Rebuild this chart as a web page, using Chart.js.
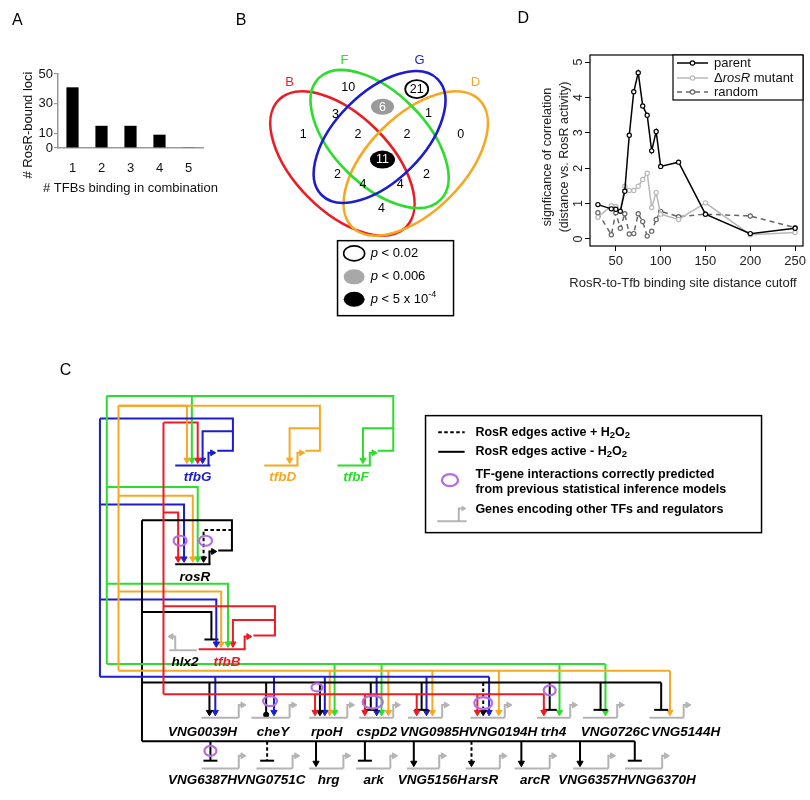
<!DOCTYPE html>
<html><head><meta charset="utf-8">
<script src="https://cdn.jsdelivr.net/npm/chart.js@4.4.1/dist/chart.umd.min.js"></script>
<style>
html,body{margin:0;padding:0;background:#fff;}
#wrap{position:relative;width:810px;height:800px;overflow:hidden;background:#fff;}
canvas{position:absolute;}
</style></head><body>
<div id="wrap">
<canvas id="net" width="810" height="800" style="left:0;top:0;width:810px;height:800px"></canvas>
<canvas id="chA" width="240" height="230" style="left:0;top:0;width:240px;height:230px"></canvas>
<canvas id="chD" width="290" height="290" style="left:520px;top:0;width:290px;height:290px"></canvas>
</div>
<script>
// ---------------- DATA ----------------
// Panel A
const tfbCombo = ['1','2','3','4','5'];
const boundLoci = [41, 15, 15, 9, 0.5];
const aTicks = [0, 10, 30, 50];

// Panel D
const cutoffs   = [30,45,50,55,60,65,70,75,80,85,90,95,100,120,150,200,250];
const parentSig = [0.97,0.85,0.84,0.78,1.35,2.93,4.16,4.70,3.76,3.50,2.49,3.04,2.05,2.17,0.70,0.15,0.30];
const mutantSig = [0.61,0.94,0.92,0.80,1.49,1.37,1.37,1.49,1.68,1.86,0.89,1.31,0.70,0.55,1.02,0.12,0.18];
const randomSig = [0.74,0.12,0.74,0.30,0.71,0.14,0.15,0.71,0.49,0.08,0.22,0.55,0.78,0.63,0.70,0.65,0.32];
const dXTicks = [50,100,150,200,250];
const dYTicks = [0,1,2,3,4,5];

// Panel B (Venn)
const vennSets    = ['B','F','G','D'];
const vennRegions = ['B','F','G','D','BF','FG','GD','BFG','FGD','BFGD','BG','BGD','BFD','FD','BD'];
const vennCounts  = [1,10,21,0,3,6,1,2,2,11,2,4,4,2,4];
const vennSignif  = ['','','p<0.02','','','p<0.006','','','','p<5e-4','','','','',''];

// Panel C (network)
const regulators = ['tfbB','tfbD','tfbF','tfbG','rosR'];
const topGenes  = ['tfbG','tfbD','tfbF','rosR','tfbB','hlx2'];
const row1Genes = ['VNG0039H','cheY','rpoH','cspD2','VNG0985H','VNG0194H','trh4','VNG0726C','VNG5144H'];
const row2Genes = ['VNG6387H','VNG0751C','hrg','ark','VNG5156H','arsR','arcR','VNG6357H','VNG6370H'];
// [regulator, target, effect, condition]  effect: act / rep / ball ; condition: '-' (-H2O2, solid) or '+' (+H2O2, dashed)
const edges = [
 ['tfbD','tfbG','act','-'],['tfbF','tfbG','act','-'],['tfbB','tfbG','act','-'],['tfbG','tfbG','act','-'],
 ['tfbD','tfbD','act','-'],['tfbF','tfbF','act','-'],
 ['tfbB','rosR','act','-'],['tfbG','rosR','act','-'],['tfbD','rosR','act','-'],['tfbF','rosR','act','-'],['rosR','rosR','act','+'],
 ['tfbG','tfbB','act','-'],['tfbD','tfbB','act','-'],['tfbF','tfbB','act','-'],['rosR','tfbB','rep','-'],['tfbB','tfbB','act','-'],
 ['rosR','VNG0039H','act','-'],['tfbG','VNG0039H','act','-'],
 ['rosR','cheY','ball','-'],['tfbG','cheY','act','-'],
 ['tfbB','rpoH','act','-'],['rosR','rpoH','act','-'],['tfbG','rpoH','act','-'],['tfbD','rpoH','act','-'],['tfbF','rpoH','act','-'],
 ['tfbB','cspD2','act','-'],['rosR','cspD2','rep','-'],['tfbG','cspD2','act','-'],['tfbF','cspD2','act','-'],['tfbD','cspD2','act','-'],
 ['tfbB','VNG0985H','act','-'],['rosR','VNG0985H','rep','-'],['tfbG','VNG0985H','act','-'],['tfbD','VNG0985H','act','-'],
 ['tfbB','VNG0194H','act','-'],['rosR','VNG0194H','act','+'],['tfbG','VNG0194H','act','-'],['tfbD','VNG0194H','act','-'],
 ['tfbB','trh4','act','-'],['rosR','trh4','rep','-'],['tfbF','trh4','act','-'],
 ['rosR','VNG0726C','rep','-'],['tfbF','VNG0726C','act','-'],
 ['rosR','VNG5144H','rep','-'],['tfbD','VNG5144H','act','-'],
 ['rosR','VNG6387H','rep','-'],['rosR','VNG0751C','rep','+'],['rosR','hrg','act','-'],['rosR','ark','rep','-'],
 ['rosR','VNG5156H','act','-'],['rosR','arsR','act','+'],['rosR','arcR','act','-'],['rosR','VNG6357H','act','-'],['rosR','VNG6370H','rep','-']
];
const predictedTargets = ['rosR','rosR','cheY','rpoH','cspD2','VNG0194H','trh4','VNG6387H'];

// ---------------- STYLE / LAYOUT ----------------
const FAM = '"Liberation Sans", Arial, Helvetica, sans-serif';
const fnt = (size, style) => (style ? style + ' ' : '') + size + 'px ' + FAM;
const COL = {tfbB:'#ec1c24', tfbD:'#f7a823', tfbF:'#2ddd2d', tfbG:'#1d1dd0', rosR:'#000000', gray:'#b4b4b4', purple:'#b56de3'};
const vennColor = {B:COL.tfbB, F:COL.tfbF, G:COL.tfbG, D:COL.tfbD};

const vennShape = {B:[341,158,90,48,45], F:[379,133,86,46,45], G:[379,131,82,44,-45], D:[416,158,90,48,-45]};
const vennLabelPos = {B:[287,75], F:[343,53], G:[420,53], D:[477,75]};
const vennRegionPos = {B:[301,128],F:[347,80],G:[417,82],D:[462,128],BF:[334,107],FG:[382,100],GD:[429,106],
  BFG:[357,128],FGD:[407,128],BFGD:[382,154],BG:[336,169],BGD:[362,179],BFD:[400,179],FD:[427,169],BD:[381,204]};

const trunk = {tfbG:[93,419], tfbD:[112,406], tfbF:[100,396], tfbB:[158,423], rosR:[136,523]};
const bus1Y = {tfbF:670, tfbD:677, tfbG:683, rosR:689, tfbB:701};
const bus2Y = 749;
const sourceLoop = {
  tfbG:[[213,452],[229,452],[229,419],[93,419]],
  tfbD:[[303,452],[318,452],[318,406],[112,406]],
  tfbF:[[377,452],[393,452],[393,396],[100,396]],
  tfbB:[[250,641],[272,641],[272,611],[158,611]],
  rosR:[[214,554],[228,554],[228,523],[136,523]]
};
const topGeneLayout = {
  tfbG:{s:170,e:206,y:467,p:204,py:452,c:COL.tfbG,lx:193,ly:479,tc:COL.tfbG},
  tfbD:{s:261,e:296,y:467,p:295,py:452,c:COL.tfbD,lx:280,ly:479,tc:COL.tfbD},
  tfbF:{s:336,e:370,y:467,p:369,py:452,c:COL.tfbF,lx:355,ly:479,tc:COL.tfbF},
  rosR:{s:170,e:206,y:568,p:205,py:554,c:'#000',lx:190,ly:581,tc:'#000'},
  tfbB:{s:194,e:242,y:655,p:241,py:641,c:COL.tfbB,lx:223,ly:668,tc:COL.tfbB},
  hlx2:{s:164,e:192,y:656,p:170,py:641,c:COL.gray,lx:180,ly:668,tc:'#000',left:true}
};
const topEdgeLayout = {
 'tfbD>tfbG':[112,406,182],'tfbF>tfbG':[100,396,187],'tfbB>tfbG':[158,423,193],'tfbG>tfbG':[229,432,198],
 'tfbD>tfbD':[318,429,287],'tfbF>tfbF':[393,429,362],
 'tfbB>rosR':[158,515,173],'tfbG>rosR':[93,507,179],'tfbD>rosR':[112,498,188],'tfbF>rosR':[100,489,193],'rosR>rosR':[228,533,199],
 'tfbG>tfbB':[93,604,212],'tfbD>tfbB':[112,596,217],'tfbF>tfbB':[100,588,224],'rosR>tfbB':[136,617,207],'tfbB>tfbB':[272,625,229]
};
const row1Layout = {VNG0039H:[197,235,198],cheY:[248,287,270],rpoH:[307,346,325],cspD2:[358,393,376],VNG0985H:[408,443,435],
  VNG0194H:[472,507,505],trh4:[540,574,557],VNG0726C:[587,622,620],VNG5144H:[655,690,692]};
const row2Layout = {VNG6387H:[197,235,198],VNG0751C:[253,290,268],hrg:[307,342,327],ark:[355,390,373],VNG5156H:[407,440,433],
  arsR:[467,502,485],arcR:[517,553,538],VNG6357H:[577,613,597],VNG6370H:[630,668,667]};
const rowEdgeX = {
 'rosR>VNG0039H':205,'tfbG>VNG0039H':211,'rosR>cheY':263,'tfbG>cheY':271,
 'tfbB>rpoH':313,'rosR>rpoH':318,'tfbG>rpoH':323,'tfbD>rpoH':328,'tfbF>rpoH':333,
 'tfbB>cspD2':364,'rosR>cspD2':370,'tfbG>cspD2':376,'tfbF>cspD2':381,'tfbD>cspD2':388,
 'tfbB>VNG0985H':417,'rosR>VNG0985H':422,'tfbG>VNG0985H':427,'tfbD>VNG0985H':433,
 'tfbB>VNG0194H':479,'rosR>VNG0194H':485,'tfbG>VNG0194H':491,'tfbD>VNG0194H':501,
 'tfbB>trh4':547,'rosR>trh4':553,'tfbF>trh4':563,'rosR>VNG0726C':605,'tfbF>VNG0726C':610,
 'rosR>VNG5144H':667,'tfbD>VNG5144H':676,
 'rosR>VNG6387H':206,'rosR>VNG0751C':264,'rosR>hrg':314,'rosR>ark':364,'rosR>VNG5156H':414,
 'rosR>arsR':473,'rosR>arcR':524,'rosR>VNG6357H':584,'rosR>VNG6370H':640
};
const predictedPos = [[175,544,6.5,5],[201,544,6.5,5],[267,708,7,5],[315,694,5.5,4],[372,709,10,6.5],[485,710,9,6],[553,697,6,5],[206,759,6,5]];

// ---------------- NETWORK DATASETS ----------------
const netDatasets = [];
function addPath(pts, color, end, dash, width) {
  const n = pts.length;
  let style = 'circle', rot = 0, rad = 0, bw = 1;
  if (end === 'act') { style = 'triangle'; rot = 180; rad = 3.6; }
  else if (end === 'rep') { style = 'line'; rad = 7; bw = 2; }
  else if (end === 'ball') { style = 'circle'; rad = 2.6; }
  else if (end === 'right') { style = 'triangle'; rot = 90; rad = 3.4; }
  else if (end === 'left') { style = 'triangle'; rot = 270; rad = 3.4; }
  netDatasets.push({
    data: pts.map(p => ({x: p[0], y: p[1]})),
    showLine: true, borderColor: color, borderWidth: width || 2,
    borderDash: dash ? [3.5, 2.5] : [],
    pointRadius: pts.map((p, i) => (i === n - 1 ? rad : 0)),
    pointHoverRadius: 0, pointHitRadius: 0,
    pointStyle: style, pointRotation: rot,
    pointBackgroundColor: color, pointBorderColor: color, pointBorderWidth: bw,
    clip: false, tension: 0
  });
}
// target genes with promoters
function addGene(s, e, y, c, px, left) {
  addPath([[s, y], [e, y]], c, null, false, 2);
  if (left) addPath([[px, y], [px, y - 14], [px - 4, y - 14]], c, 'left', false, 2);
  else addPath([[px, y], [px, y - 13], [px + 4, y - 13]], c, 'right', false, 2);
}
row1Genes.forEach(g => { const L = row1Layout[g]; addGene(L[0], L[1], 725, COL.gray, L[1]); });
row2Genes.forEach(g => { const L = row2Layout[g]; addGene(L[0], L[1], 777, COL.gray, L[1]); });
topGenes.forEach(g => { const L = topGeneLayout[g]; addGene(L.s, L.e, L.y, L.c, L.p, L.left); });
// trunks, source loops and buses
regulators.forEach(r => {
  const c = COL[r];
  addPath(sourceLoop[r], c, null, false, 2);
  const bottom = r === 'rosR' ? bus2Y : bus1Y[r];
  addPath([[trunk[r][0], trunk[r][1]], [trunk[r][0], bottom]], c, null, false, 2);
  const xs = edges.filter(e => e[0] === r && row1Genes.includes(e[1])).map(e => rowEdgeX[e[0] + '>' + e[1]]);
  if (xs.length) addPath([[trunk[r][0], bus1Y[r]], [Math.max(...xs), bus1Y[r]]], c, null, false, 2);
  const xs2 = edges.filter(e => e[0] === r && row2Genes.includes(e[1])).map(e => rowEdgeX[e[0] + '>' + e[1]]);
  if (xs2.length) addPath([[trunk[r][0], bus2Y], [Math.max(...xs2), bus2Y]], c, null, false, 2);
});
// edges
edges.forEach(([reg, tgt, eff, cond]) => {
  const key = reg + '>' + tgt, c = COL[reg], dash = cond === '+';
  let endY, fromPts;
  if (topEdgeLayout[key]) {
    const [fx, fy, x] = topEdgeLayout[key];
    const gy = topGeneLayout[tgt].y;
    endY = eff === 'rep' ? gy - 10 : gy - 2 - 3.6;
    fromPts = [[fx, fy], [x, fy], [x, endY]];
  } else {
    const x = rowEdgeX[key];
    const inRow1 = row1Genes.includes(tgt);
    const gy = inRow1 ? 725 : 777;
    const by = inRow1 ? bus1Y[reg] : bus2Y;
    endY = eff === 'rep' ? gy - 8 : eff === 'ball' ? gy - 3 : gy - 2 - 3.6;
    fromPts = [[x, by], [x, endY]];
  }
  addPath(fromPts, c, eff, dash, 2);
});

// ---------------- TEXT HELPERS ----------------
function drawParts(ctx, x, y, parts) {
  let cx = x;
  parts.forEach(([t, font, dy]) => { ctx.font = font; ctx.fillText(t, cx, y + (dy || 0)); cx += ctx.measureText(t).width; });
}

const netPlugin = {
  id: 'netText',
  afterDatasetsDraw(chart) {
    const ctx = chart.ctx, sx = chart.scales.x, sy = chart.scales.y;
    const X = v => sx.getPixelForValue(v), Y = v => sy.getPixelForValue(v);
    ctx.save();
    ctx.fillStyle = '#000'; ctx.textBaseline = 'middle'; ctx.textAlign = 'left';
    ctx.font = fnt(16);
    ctx.fillText('A', X(3), Y(12)); ctx.fillText('B', X(232), Y(12));
    ctx.fillText('D', X(520), Y(10)); ctx.fillText('C', X(52), Y(370));

    // Venn ellipses
    ctx.lineWidth = 2.6;
    ['B','D','F','G'].forEach(s => {
      const [cx, cy, a, b, r] = vennShape[s];
      ctx.strokeStyle = vennColor[s];
      ctx.beginPath(); ctx.ellipse(X(cx), Y(cy), a, b, r * Math.PI / 180, 0, Math.PI * 2); ctx.stroke();
    });
    ctx.textAlign = 'center'; ctx.font = fnt(13);
    vennSets.forEach(s => { ctx.fillStyle = vennColor[s]; const p = vennLabelPos[s]; ctx.fillText(s, X(p[0]), Y(p[1])); });
    vennRegions.forEach((rg, i) => {
      const [px, py] = vennRegionPos[rg]; const sig = vennSignif[i];
      ctx.fillStyle = '#000';
      if (sig === 'p<0.02') { ctx.strokeStyle = '#000'; ctx.lineWidth = 1.8; ctx.beginPath(); ctx.ellipse(X(px), Y(py), 11.5, 9, 0, 0, Math.PI*2); ctx.stroke(); }
      if (sig === 'p<0.006') { ctx.fillStyle = '#9a9a9a'; ctx.beginPath(); ctx.ellipse(X(px), Y(py), 11.5, 8, 0, 0, Math.PI*2); ctx.fill(); ctx.fillStyle = '#fff'; }
      if (sig === 'p<5e-4') { ctx.fillStyle = '#000'; ctx.beginPath(); ctx.ellipse(X(px), Y(py), 12.5, 9, 0, 0, Math.PI*2); ctx.fill(); ctx.fillStyle = '#fff'; }
      ctx.font = fnt(12.5);
      ctx.fillText(String(vennCounts[i]), X(px), Y(py + 0.5));
    });
    // Venn legend
    ctx.strokeStyle = '#000'; ctx.lineWidth = 1.5; ctx.strokeRect(X(336), Y(237), 116, 75);
    const lg = [[250,'o','< 0.02'],[274,'g','< 0.006'],[297,'k','< 5 x 10']];
    lg.forEach(([yy, k, t]) => {
      ctx.beginPath(); ctx.ellipse(X(353), Y(yy), 10.5, 7.5, 0, 0, Math.PI*2);
      if (k === 'o') { ctx.lineWidth = 1.6; ctx.stroke(); }
      else { ctx.fillStyle = k === 'g' ? '#a8a8a8' : '#000'; ctx.fill(); }
      ctx.fillStyle = '#000'; ctx.textAlign = 'left';
      const parts = [['p', fnt(13,'italic')], [' ' + t, fnt(13)]];
      if (k === 'k') parts.push(['-4', fnt(9), -5]);
      drawParts(ctx, X(370), Y(yy), parts);
    });

    // network labels
    ctx.textAlign = 'center';
    ctx.font = fnt(13.5, 'italic bold');
    topGenes.forEach(g => { const L = topGeneLayout[g]; ctx.fillStyle = L.tc; ctx.fillText(g, X(L.lx), Y(L.ly)); });
    ctx.fillStyle = '#000';
    row1Genes.forEach(g => ctx.fillText(g, X(row1Layout[g][2]), Y(740)));
    row2Genes.forEach(g => ctx.fillText(g, X(row2Layout[g][2]), Y(789)));
    // predicted interactions
    ctx.strokeStyle = COL.purple; ctx.lineWidth = 2.2;
    predictedTargets.forEach((t, i) => { const [px, py, rx, ry] = predictedPos[i]; ctx.beginPath(); ctx.ellipse(X(px), Y(py), rx, ry, 0, 0, Math.PI*2); ctx.stroke(); });

    // network legend
    ctx.strokeStyle = '#000'; ctx.lineWidth = 1.5; ctx.strokeRect(X(426), Y(416), 336, 117);
    ctx.lineWidth = 2; ctx.setLineDash([3.5, 2.5]);
    ctx.beginPath(); ctx.moveTo(X(439), Y(433)); ctx.lineTo(X(466), Y(433)); ctx.stroke();
    ctx.setLineDash([]);
    ctx.beginPath(); ctx.moveTo(X(439), Y(453)); ctx.lineTo(X(466), Y(453)); ctx.stroke();
    ctx.strokeStyle = COL.purple; ctx.lineWidth = 2.4;
    ctx.beginPath(); ctx.ellipse(X(451), Y(482), 8, 6, 0, 0, Math.PI*2); ctx.stroke();
    ctx.strokeStyle = COL.gray; ctx.lineWidth = 2;
    ctx.beginPath(); ctx.moveTo(X(438), Y(524)); ctx.lineTo(X(468), Y(524));
    ctx.moveTo(X(460), Y(524)); ctx.lineTo(X(460), Y(511)); ctx.lineTo(X(464), Y(511)); ctx.stroke();
    ctx.fillStyle = COL.gray; ctx.beginPath(); ctx.moveTo(X(468), Y(511)); ctx.lineTo(X(463), Y(508)); ctx.lineTo(X(463), Y(514)); ctx.closePath(); ctx.fill();
    ctx.fillStyle = '#000'; ctx.textAlign = 'left';
    const b12 = fnt(12.5, 'bold'), b9 = fnt(9.5, 'bold');
    drawParts(ctx, X(477), Y(433), [['RosR edges active + H', b12], ['2', b9, 3], ['O', b12], ['2', b9, 3]]);
    drawParts(ctx, X(477), Y(453), [['RosR edges active - H', b12], ['2', b9, 3], ['O', b12], ['2', b9, 3]]);
    ctx.font = b12;
    ctx.fillText('TF-gene interactions correctly predicted', X(477), Y(476));
    ctx.fillText('from previous statistical inference models', X(477), Y(492));
    ctx.fillText('Genes encoding other TFs and regulators', X(477), Y(512));
    ctx.restore();
  }
};

new Chart(document.getElementById('net'), {
  type: 'scatter',
  data: {datasets: netDatasets},
  options: {
    responsive: false, animation: false, events: [],
    layout: {padding: 0},
    scales: {
      x: {type: 'linear', min: 0, max: 810, display: false},
      y: {type: 'linear', min: 0, max: 800, reverse: true, display: false}
    },
    plugins: {legend: {display: false}, tooltip: {enabled: false}}
  },
  plugins: [netPlugin]
});

// ---------------- PANEL A ----------------
const aTitles = {
  id: 'aTitles',
  afterDraw(chart) {
    const ctx = chart.ctx; ctx.save();
    ctx.fillStyle = '#111'; ctx.font = fnt(13); ctx.textBaseline = 'middle';
    ctx.textAlign = 'left'; ctx.fillText('# TFBs binding in combination', 43, 188);
    ctx.translate(28, 125); ctx.rotate(-Math.PI / 2); ctx.textAlign = 'center';
    ctx.fillText('# RosR-bound loci', 0, 0);
    ctx.restore();
  }
};
new Chart(document.getElementById('chA'), {
  type: 'bar',
  data: {labels: tfbCombo, datasets: [{data: boundLoci, backgroundColor: '#000', barPercentage: 0.42, categoryPercentage: 1}]},
  options: {
    responsive: false, animation: false, events: [],
    layout: {padding: {top: 74, right: 37, left: 0, bottom: 0}},
    plugins: {legend: {display: false}, tooltip: {enabled: false}},
    scales: {
      x: {grid: {display: false}, border: {display: true, color: '#999', width: 1.5},
          ticks: {font: {size: 13, family: FAM}, color: '#111', padding: 5},
          afterFit: s => { s.height = 82; }},
      y: {min: 0, max: 50, afterBuildTicks: s => { s.ticks = aTicks.map(v => ({value: v})); },
          grid: {drawOnChartArea: false, tickLength: 4, color: '#999', lineWidth: 1.2},
          border: {display: true, color: '#999', width: 1.5},
          ticks: {font: {size: 13, family: FAM}, color: '#111', padding: 1},
          afterFit: s => { s.width = 58; }}
    }
  },
  plugins: [aTitles]
});

// ---------------- PANEL D ----------------
const dPlugin = {
  id: 'dExtras',
  afterDraw(chart) {
    const ctx = chart.ctx, a = chart.chartArea, sy = chart.scales.y;
    ctx.save();
    ctx.strokeStyle = '#000'; ctx.lineWidth = 1.2;
    ctx.strokeRect(a.left, a.top, a.right - a.left, a.bottom - a.top);
    ctx.fillStyle = '#222'; ctx.font = fnt(12.5); ctx.textBaseline = 'middle'; ctx.textAlign = 'center';
    dYTicks.forEach(v => { ctx.save(); ctx.translate(59, sy.getPixelForValue(v)); ctx.rotate(-Math.PI/2); ctx.fillText(String(v), 0, 0); ctx.restore(); });
    ctx.font = fnt(13);
    ctx.fillText('RosR-to-Tfb binding site distance cutoff', 163, 283);
    ctx.font = fnt(12.5);
    ctx.save(); ctx.translate(28, 157); ctx.rotate(-Math.PI/2);
    ctx.fillText('signficance of correlation', 0, 0);
    ctx.fillText('(distance vs. RosR activity)', 0, 17);
    ctx.restore();
    // legend
    ctx.fillStyle = '#fff'; ctx.fillRect(153, 55, 130, 45);
    ctx.strokeStyle = '#000'; ctx.lineWidth = 1.2; ctx.strokeRect(153, 55, 130, 45);
    const items = [[63, '#000', [], [['parent', fnt(13)]]],
                   [78, '#b8b8b8', [], [['\u0394', fnt(13)], ['rosR', fnt(13, 'italic')], [' mutant', fnt(13)]]],
                   [92, '#666', [5, 4], [['random', fnt(13)]]]];
    items.forEach(([yy, c, dash, parts]) => {
      ctx.strokeStyle = c; ctx.lineWidth = 1.5; ctx.setLineDash(dash);
      ctx.beginPath(); ctx.moveTo(157, yy); ctx.lineTo(188, yy); ctx.stroke(); ctx.setLineDash([]);
      ctx.fillStyle = '#fff'; ctx.beginPath(); ctx.arc(172.5, yy, 2.2, 0, Math.PI*2); ctx.fill();
      ctx.lineWidth = 1.2; ctx.stroke();
      ctx.fillStyle = '#111'; ctx.textAlign = 'left';
      drawParts(ctx, 194, yy, parts);
    });
    ctx.restore();
  }
};
const mkSeries = (vals, color, dash) => ({
  data: cutoffs.map((x, i) => ({x, y: vals[i]})),
  borderColor: color, borderWidth: 1.5, borderDash: dash,
  pointRadius: 2.1, pointBorderWidth: 1.2, pointBackgroundColor: '#fff', pointBorderColor: color, tension: 0
});
new Chart(document.getElementById('chD'), {
  type: 'line',
  data: {datasets: [mkSeries(parentSig, '#000', []), mkSeries(mutantSig, '#b8b8b8', []), mkSeries(randomSig, '#666', [5, 4])]},
  options: {
    responsive: false, animation: false, events: [],
    layout: {padding: {top: 55, right: 7, left: 0, bottom: 0}},
    plugins: {legend: {display: false}, tooltip: {enabled: false}},
    scales: {
      x: {type: 'linear', min: 21.2, max: 258.8,
          afterBuildTicks: s => { s.ticks = dXTicks.map(v => ({value: v})); },
          grid: {drawOnChartArea: false, tickLength: 5, tickColor: '#000'}, border: {display: false},
          ticks: {font: {size: 13, family: FAM}, color: '#222', padding: 3, maxRotation: 0},
          afterFit: s => { s.height = 44; }},
      y: {type: 'linear', min: -0.2, max: 5.2,
          afterBuildTicks: s => { s.ticks = dYTicks.map(v => ({value: v})); },
          grid: {drawOnChartArea: false, tickLength: 5, tickColor: '#000'}, border: {display: false},
          ticks: {callback: () => '', padding: 0},
          afterFit: s => { s.width = 70; }}
    }
  },
  plugins: [dPlugin]
});
</script>
</body></html>
